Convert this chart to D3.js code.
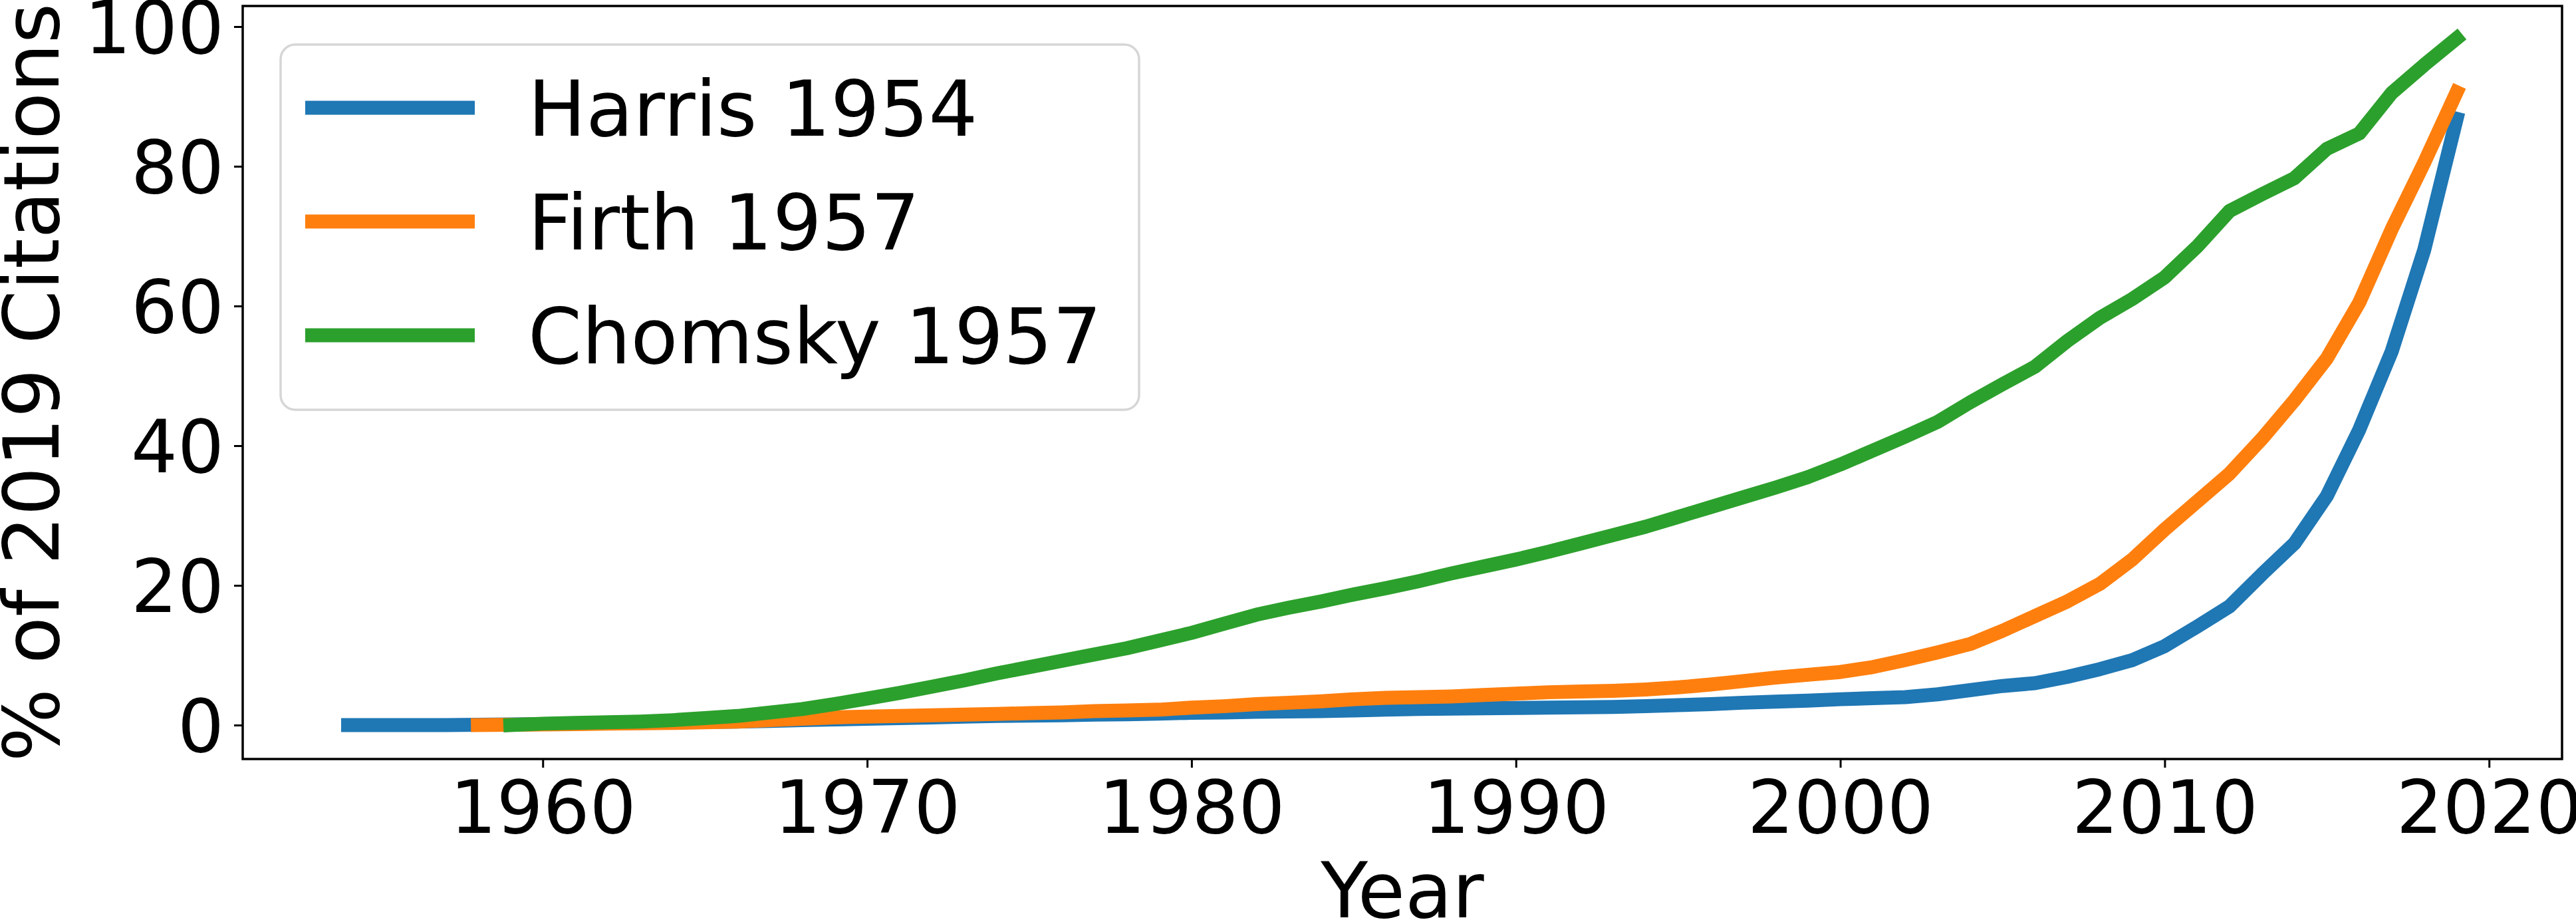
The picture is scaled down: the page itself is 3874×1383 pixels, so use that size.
<!DOCTYPE html>
<html>
<head>
<meta charset="utf-8">
<script src="https://cdn.jsdelivr.net/npm/d3@7"></script>
<style>
  html, body { margin: 0; padding: 0; background: #fff; }
  svg { display: block; }
  text { font-family: "DejaVu Sans", sans-serif; fill: #000; }
</style>
</head>
<body>
<svg id="chart"></svg>
<script>
// ------------------------------------------------------------
// Share of 2019 citations reached per year, three classic papers
// ------------------------------------------------------------

const SERIES_NAMES = ['Harris 1954', 'Firth 1957', 'Chomsky 1957'];
const SERIES_COLORS = ['#1f77b4', '#ff7f0e', '#2ca02c'];

// first year plotted for each series (last is 2019)
const HARRIS_START = 1954;
const FIRTH_START = 1958;
const CHOMSKY_START = 1959;

// % of 2019 citations, one value per year
const harrisValues = [
  0, 0, 0, 0, 0.05, 0.1,                              // 1954-1959
  0.15, 0.2, 0.25, 0.3, 0.4, 0.45, 0.5, 0.6, 0.7, 0.8,  // 1960s
  0.9, 1.0, 1.1, 1.2, 1.3, 1.35, 1.4, 1.5, 1.55, 1.65,  // 1970s
  1.75, 1.8, 1.9, 1.95, 2.0, 2.1, 2.2, 2.3, 2.35, 2.4,  // 1980s
  2.45, 2.5, 2.55, 2.6, 2.7, 2.85, 3.0, 3.2, 3.35, 3.5, // 1990s
  3.7, 3.85, 4.0, 4.4, 5.0, 5.6, 6.0, 6.9, 8.0, 9.3,    // 2000s
  11.3, 14.1, 17.0, 21.6, 26.0, 32.8, 42.3, 53.5, 68.0, 86.8 // 2010-2019
];

const firthValues = [
  0, 0.05,                                             // 1958-1959
  0.1, 0.15, 0.2, 0.25, 0.3, 0.4, 0.5, 0.7, 0.9, 1.1,
  1.2, 1.3, 1.4, 1.5, 1.6, 1.7, 1.8, 2.0, 2.1, 2.2,
  2.5, 2.7, 3.0, 3.2, 3.4, 3.7, 3.9, 4.0, 4.1, 4.3,
  4.5, 4.7, 4.8, 4.9, 5.1, 5.4, 5.8, 6.3, 6.8, 7.2,
  7.6, 8.3, 9.3, 10.4, 11.6, 13.5, 15.6, 17.7, 20.2, 23.7,
  28.0, 32.0, 36.0, 41.0, 46.5, 52.5, 60.5, 71.0, 80.5, 90.6
];

const chomskyValues = [
  0,                                                   // 1959
  0.2, 0.3, 0.4, 0.5, 0.7, 1.0, 1.3, 1.8, 2.3, 3.0,
  3.8, 4.6, 5.5, 6.4, 7.4, 8.3, 9.2, 10.1, 11.0, 12.1,
  13.2, 14.5, 15.8, 16.8, 17.7, 18.7, 19.6, 20.6, 21.7, 22.7,
  23.7, 24.8, 26.0, 27.2, 28.4, 29.8, 31.2, 32.6, 34.0, 35.5,
  37.3, 39.3, 41.3, 43.4, 46.2, 48.8, 51.3, 55.0, 58.3, 61.0,
  64.1, 68.5, 73.6, 76.0, 78.3, 82.5, 84.7, 90.5, 94.5, 98.3
];

const X_TICKS = [1960, 1970, 1980, 1990, 2000, 2010, 2020];
const Y_TICKS = [0, 20, 40, 60, 80, 100];

const W = 3874, H = 1383;
const plot = { left: 365, right: 3853, top: 9, bottom: 1141 };

const svg = d3.select('#chart').attr('width', W).attr('height', H);

const x = d3.scaleLinear().domain([1950.75, 2022.25]).range([plot.left, plot.right]);
const y = d3.scaleLinear().domain([-4.86, 102.95]).range([plot.bottom, plot.top]);

const toPoints = (start, vals) => vals.map((v, i) => ({ year: start + i, value: v }));
const series = [
  toPoints(HARRIS_START, harrisValues),
  toPoints(FIRTH_START, firthValues),
  toPoints(CHOMSKY_START, chomskyValues)
];

const line = d3.line().x(d => x(d.year)).y(d => y(d.value));

// Lines (drawn first, spines on top like matplotlib)
series.forEach((pts, i) => {
  svg.append('path')
    .datum(pts)
    .attr('d', line)
    .attr('fill', 'none')
    .attr('stroke', SERIES_COLORS[i])
    .attr('stroke-width', 21)
    .attr('stroke-linecap', 'square')
    .attr('stroke-linejoin', 'round');
});

// Axes
const tickW = 3;
const xAxis = d3.axisBottom(x).tickValues(X_TICKS).tickFormat(d3.format('d'))
  .tickSizeInner(13).tickSizeOuter(0).tickPadding(0);
const yAxis = d3.axisLeft(y).tickValues(Y_TICKS).tickFormat(d3.format('d'))
  .tickSizeInner(13).tickSizeOuter(0).tickPadding(0);

const gx = svg.append('g').attr('transform', `translate(0,${plot.bottom})`).call(xAxis);
gx.select('.domain').remove();
gx.selectAll('.tick line').attr('stroke', '#000').attr('stroke-width', tickW);
gx.selectAll('.tick text')
  .attr('y', 111).attr('dy', null)
  .attr('font-size', 110).attr('font-family', '"DejaVu Sans", sans-serif');

const gy = svg.append('g').attr('transform', `translate(${plot.left},0)`).call(yAxis);
gy.select('.domain').remove();
gy.selectAll('.tick line').attr('stroke', '#000').attr('stroke-width', tickW);
gy.selectAll('.tick text')
  .attr('x', -28).attr('dy', null).attr('y', 40)
  .attr('font-size', 110).attr('font-family', '"DejaVu Sans", sans-serif');

// Spines
svg.append('rect')
  .attr('x', plot.left).attr('y', plot.top)
  .attr('width', plot.right - plot.left).attr('height', plot.bottom - plot.top)
  .attr('fill', 'none').attr('stroke', '#000').attr('stroke-width', 3.5);

// Axis titles
svg.append('text')
  .attr('x', (plot.left + plot.right) / 2).attr('y', 1379)
  .attr('text-anchor', 'middle').attr('font-size', 116)
  .text('Year');

svg.append('text')
  .attr('transform', `translate(88,${(plot.top + plot.bottom) / 2}) rotate(-90)`)
  .attr('text-anchor', 'middle').attr('font-size', 116)
  .text('% of 2019 Citations');

// Legend
const legend = svg.append('g');
legend.append('rect')
  .attr('x', 422).attr('y', 67).attr('width', 1291).attr('height', 549)
  .attr('rx', 22).attr('ry', 22)
  .attr('fill', '#fff').attr('stroke', '#d6d6d6').attr('stroke-width', 3.5);

SERIES_NAMES.forEach((name, i) => {
  const cy = 162 + i * 171;
  legend.append('line')
    .attr('x1', 469.5).attr('x2', 703.5).attr('y1', cy).attr('y2', cy)
    .attr('stroke', SERIES_COLORS[i]).attr('stroke-width', 21)
    .attr('stroke-linecap', 'square');
  legend.append('text')
    .attr('x', 794).attr('y', cy + 42)
    .attr('font-size', 116)
    .text(name);
});
</script>
</body>
</html>
